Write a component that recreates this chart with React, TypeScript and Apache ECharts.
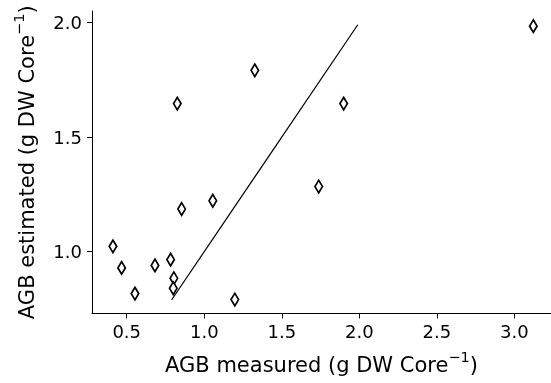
import React, { useEffect, useRef } from "react";
import * as echarts from "echarts";

const measured = [0.826, 1.326, 1.899, 1.738, 3.122, 0.411, 0.467, 0.553, 0.682, 0.783, 0.804, 0.8, 0.854, 1.055, 1.197];
const estimated = [1.646, 1.791, 1.646, 1.284, 1.984, 1.023, 0.929, 0.817, 0.94, 0.965, 0.884, 0.84, 1.186, 1.222, 0.791];
const lineX = [0.79, 1.99];
const lineY = [0.79, 1.99];
const xTicks = [0.5, 1.0, 1.5, 2.0, 2.5, 3.0];
const yTicks = [1.0, 1.5, 2.0];

export default function App() {
  const ref = useRef<HTMLDivElement>(null);
  useEffect(() => {
    if (!ref.current) return;
    const chart = echarts.init(ref.current, undefined, { renderer: "svg" });
    const font = "DejaVu Sans";
    const rich = {
      s: { fontSize: 14.5, fontFamily: font, color: "#000", verticalAlign: "top" as const, lineHeight: 15 },
      b: { fontSize: 21, fontFamily: font, color: "#000", verticalAlign: "bottom" as const, lineHeight: 26 },
    };
    chart.setOption({
      animation: false,
      grid: { left: 92, right: 0, top: 11, bottom: 69.5, containLabel: false },
      xAxis: {
        type: "value",
        min: 0.276,
        max: 3.236,
        name: "{b|AGB measured (g DW Core}{s|−1}{b|)}",
        nameLocation: "middle",
        nameGap: 36,
        nameTextStyle: { rich },
        axisLine: { show: true, lineStyle: { color: "#000", width: 1 } },
        axisTick: { show: true, customValues: xTicks, length: 5, lineStyle: { color: "#000" } },
        axisLabel: {
          customValues: xTicks,
          formatter: (v: number) => v.toFixed(1),
          color: "#000",
          fontFamily: font,
          fontSize: 18,
          margin: 9,
        },
        splitLine: { show: false },
      },
      yAxis: {
        type: "value",
        min: 0.73,
        max: 2.05,
        name: "{b|AGB estimated (g DW Core}{s|−1}{b|)}",
        nameLocation: "middle",
        nameRotate: 90,
        nameGap: 55,
        nameTextStyle: { rich },
        axisLine: { show: true, lineStyle: { color: "#000", width: 1 } },
        axisTick: { show: true, customValues: yTicks, length: 5, lineStyle: { color: "#000" } },
        axisLabel: {
          customValues: yTicks,
          formatter: (v: number) => v.toFixed(1),
          color: "#000",
          fontFamily: font,
          fontSize: 18,
          margin: 10,
        },
        splitLine: { show: false },
      },
      series: [
        {
          type: "line",
          data: lineX.map((x, i) => [x, lineY[i]]),
          symbol: "none",
          lineStyle: { color: "#000", width: 1.2 },
        },
        {
          type: "scatter",
          data: measured.map((x, i) => [x, estimated[i]]),
          symbol: "diamond",
          symbolSize: [7.5, 12.5],
          itemStyle: { color: "#fff", borderColor: "#000", borderWidth: 1.8, opacity: 1 },
        },
      ],
    });
    return () => chart.dispose();
  }, []);
  return <div ref={ref} style={{ position: "fixed", left: 0, top: 0, width: 551, height: 383 }} />;
}
